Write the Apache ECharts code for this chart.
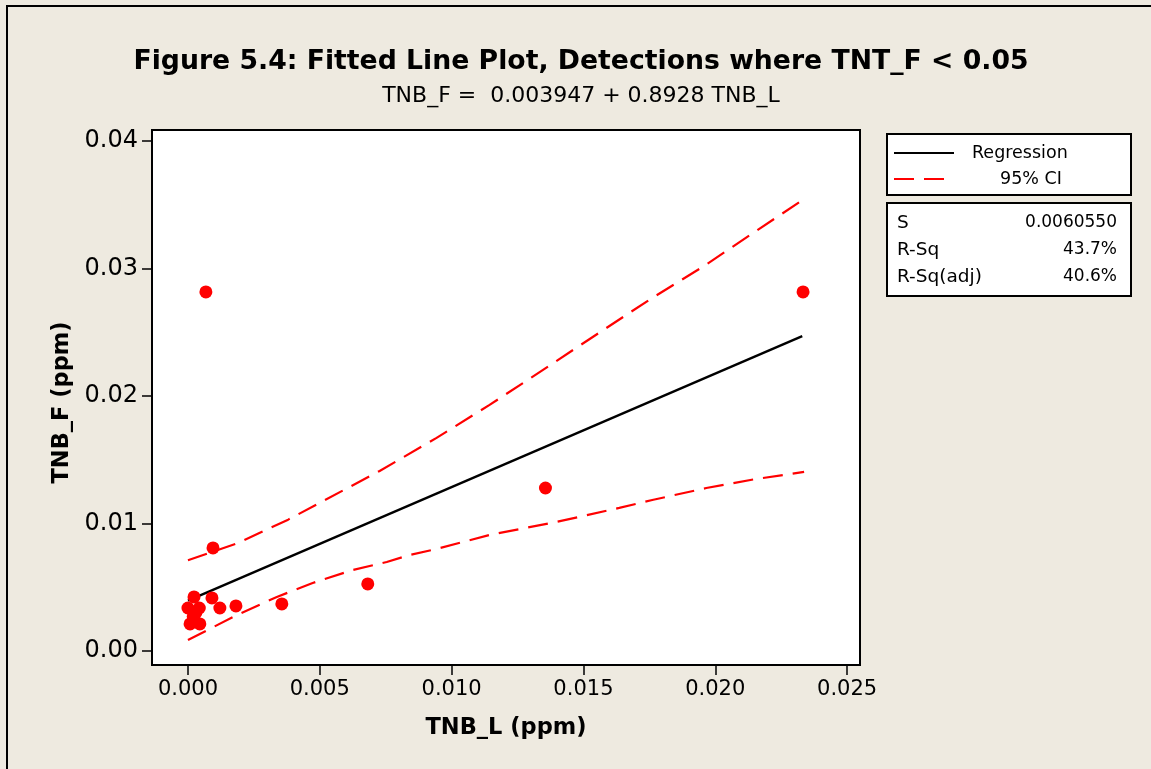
<!DOCTYPE html>
<html>
<head>
<meta charset="utf-8">
<script src="https://cdn.jsdelivr.net/npm/echarts@6/dist/echarts.min.js"></script>
<style>
  html, body { margin: 0; padding: 0; background: #EEEAE0; }
  #chart { width: 1151px; height: 769px; }
</style>
</head>
<body>
<div id="chart"></div>
<script>
// observed points (TNB_L, TNB_F), ppm
const tnbL = [0.00068, 0.02333, 0.01356, 0.00682, 0.00095, 0.00356, 0.00182, 0.00121,
  0.00091, 0.00023, 0.00000, 0.00043, 0.00008, 0.00045, 0.00020, 0.00030];
const tnbF = [0.02816, 0.02816, 0.01278, 0.00526, 0.00808, 0.00369, 0.00353, 0.00337,
  0.00416, 0.00424, 0.00337, 0.00337, 0.00212, 0.00212, 0.00270, 0.00300];

// fitted line
const fitX = [0.0000, 0.0233];
const fitY = [0.00395, 0.0247];

// 95% CI bands
const upperX = [0.0000, 0.0019, 0.0038, 0.00727, 0.00943, 0.01144, 0.01288, 0.01587,
  0.01761, 0.01958, 0.02155, 0.02337];
const upperY = [0.00712, 0.00847, 0.0103, 0.01412, 0.01671, 0.0193, 0.02125, 0.02533,
  0.02769, 0.0302, 0.03294, 0.03545];
const lowerX = [0.0000, 0.00186, 0.00337, 0.00473, 0.00625, 0.00754, 0.00841, 0.00943,
  0.01144, 0.01398, 0.01636, 0.01761, 0.01966, 0.02155, 0.02337];
const lowerY = [0.00086, 0.00282, 0.00424, 0.00533, 0.00635, 0.00698, 0.00753, 0.0080,
  0.0091, 0.01012, 0.01122, 0.01184, 0.01278, 0.01349, 0.01404];

const xTicks = [0, 0.005, 0.010, 0.015, 0.020, 0.025];
const yTicks = [0, 0.01, 0.02, 0.03, 0.04];

const stats = [['S', '0.0060550'], ['R-Sq', '43.7%'], ['R-Sq(adj)', '40.6%']];

const zip = (xs, ys) => xs.map((x, i) => [x, ys[i]]);
const FONT = 'DejaVu Sans';

const chart = echarts.init(document.getElementById('chart'));

const statText = [];
stats.forEach(([k, v], i) => {
  statText.push({ type: 'text', x: 897, y: 223 + i * 27,
    style: { text: k, font: '18.5px ' + FONT, fill: '#000', verticalAlign: 'middle' } });
  statText.push({ type: 'text', x: 1117, y: 223 + i * 27,
    style: { text: v, font: '17px ' + FONT, fill: '#000', align: 'right', verticalAlign: 'middle' } });
});

const option = {
  backgroundColor: '#EEEAE0',
  animation: false,
  title: {
    text: 'Figure 5.4: Fitted Line Plot, Detections where TNT_F < 0.05',
    subtext: 'TNB_F =  0.003947 + 0.8928 TNB_L',
    left: 576, top: 44, textAlign: 'center', itemGap: 9,
    textStyle: { fontFamily: FONT, fontWeight: 'bold', fontSize: 26.7, color: '#000' },
    subtextStyle: { fontFamily: FONT, fontSize: 22, color: '#000' }
  },
  legend: {
    data: ['Regression', '95% CI'],
    orient: 'vertical',
    left: 888, top: 139,
    itemWidth: 60, itemHeight: 14, itemGap: 8,
    itemStyle: { opacity: 0 },
    textStyle: { fontFamily: FONT, fontSize: 17.5, color: '#000',
      rich: {
        reg: { fontFamily: FONT, fontSize: 17.5, color: '#000', padding: [0, 0, 0, 13] },
        ci: { fontFamily: FONT, fontSize: 17.5, color: '#000', padding: [0, 0, 0, 41] }
      } },
    formatter: name => name === '95% CI' ? '{ci|' + name + '}' : '{reg|' + name + '}'
  },
  grid: { left: 152, top: 130, right: 291, bottom: 104, show: true,
    backgroundColor: '#fff', borderColor: '#000', borderWidth: 2 },
  xAxis: {
    type: 'value', min: -0.001364, max: 0.02549,
    name: 'TNB_L (ppm)', nameLocation: 'middle', nameGap: 52,
    nameTextStyle: { fontFamily: FONT, fontWeight: 'bold', fontSize: 22.5, color: '#000' },
    axisLine: { show: true, onZero: false, lineStyle: { color: '#000', width: 2 } },
    axisTick: { show: true, length: 10, lineStyle: { color: '#000', width: 1.5 }, customValues: xTicks },
    axisLabel: { fontFamily: FONT, fontSize: 21, color: '#000', margin: 14,
      customValues: xTicks, formatter: v => v.toFixed(3) },
    splitLine: { show: false }
  },
  yAxis: {
    type: 'value', min: -0.0011, max: 0.04086,
    name: 'TNB_F (ppm)', nameLocation: 'middle', nameGap: 78,
    nameTextStyle: { fontFamily: FONT, fontWeight: 'bold', fontSize: 22.5, color: '#000',
      padding: [0, 10, 0, 0] },
    axisLine: { show: true, onZero: false, lineStyle: { color: '#000', width: 2 } },
    axisTick: { show: true, length: 10, lineStyle: { color: '#000', width: 1.5 }, customValues: yTicks },
    axisLabel: { fontFamily: FONT, fontSize: 24, color: '#000', margin: 14,
      customValues: yTicks, formatter: v => v.toFixed(2) },
    splitLine: { show: false }
  },
  series: [
    { name: 'Regression', type: 'line', data: zip(fitX, fitY), symbol: 'none',
      lineStyle: { color: '#000', width: 2.4 }, itemStyle: { color: '#000' }, z: 3 },
    { name: '95% CI', type: 'line', data: zip(upperX, upperY), symbol: 'none',
      lineStyle: { color: '#FF0000', width: 2.2, type: [20, 10] }, itemStyle: { color: '#FF0000' }, z: 3 },
    { name: '95% CI', type: 'line', data: zip(lowerX, lowerY), symbol: 'none',
      lineStyle: { color: '#FF0000', width: 2.2, type: [20, 10] }, itemStyle: { color: '#FF0000' }, z: 3 },
    { name: 'Data', type: 'scatter', data: zip(tnbL, tnbF), symbol: 'circle', symbolSize: 13,
      itemStyle: { color: '#FF0000', opacity: 1 }, z: 4 }
  ],
  graphic: [
    // page frame (top and left edges)
    { type: 'rect', shape: { x: 7, y: 6, width: 1200, height: 800 },
      style: { fill: 'none', stroke: '#000', lineWidth: 2 }, silent: true },
    { type: 'rect', shape: { x: 887, y: 134, width: 244, height: 61 },
      style: { fill: '#fff', stroke: '#000', lineWidth: 2 }, z: -1, silent: true },
    { type: 'rect', shape: { x: 887, y: 203, width: 244, height: 93 },
      style: { fill: '#fff', stroke: '#000', lineWidth: 2 }, z: -1, silent: true },
    ...statText
  ]
};

chart.setOption(option);
</script>
</body>
</html>
